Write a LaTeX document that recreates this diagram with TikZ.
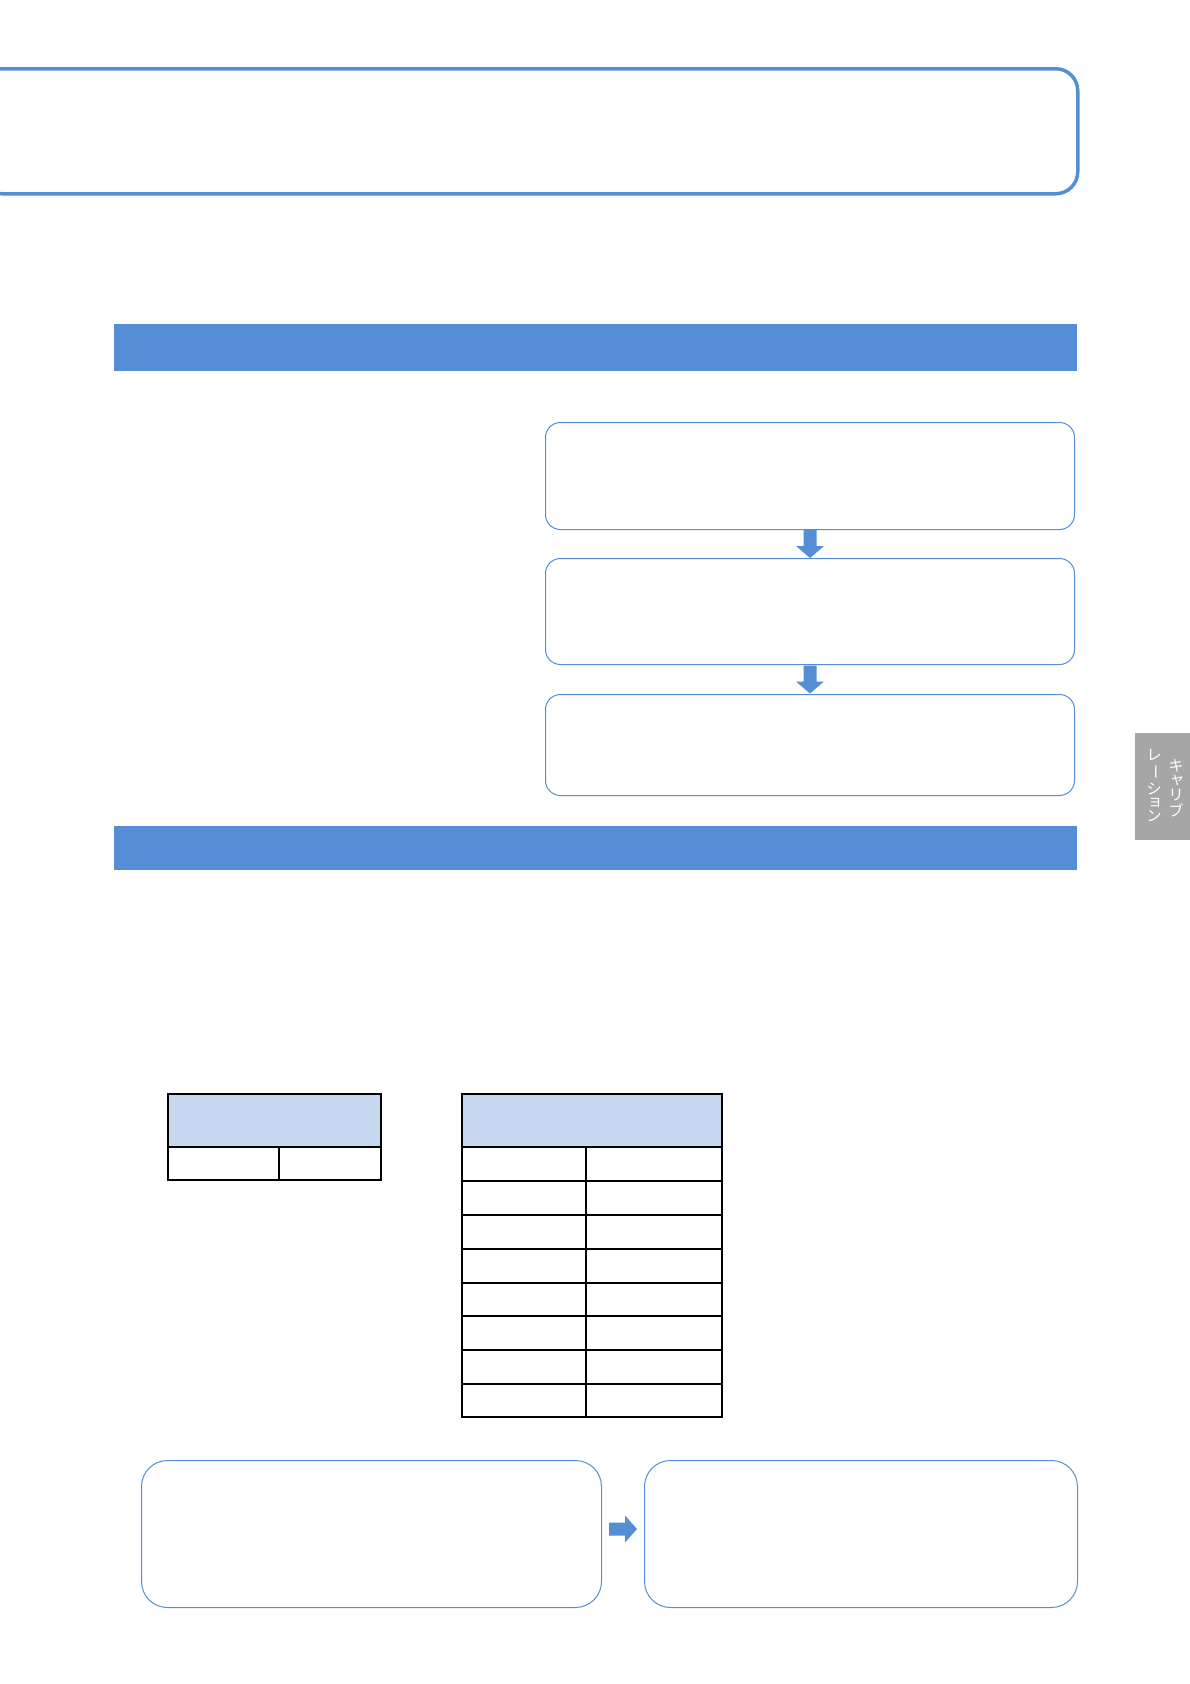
\documentclass[tikz,border=0pt]{standalone}
\usepackage{fontspec}
\newfontfamily\cjk{Noto Sans CJK JP}
\usetikzlibrary{calc}
\definecolor{bandblue}{RGB}{85,142,213}
\definecolor{hdrblue}{RGB}{198,217,241}
\definecolor{tabgray}{RGB}{166,166,166}
\tikzset{
  topbox/.style={draw=bandblue, line width=3.5pt, rounded corners=22pt, anchor=north west, inner sep=0pt},
  flowbox/.style={draw=bandblue, line width=1pt, rounded corners=15pt, anchor=north west, inner sep=0pt, fill=white},
  bottombox/.style={draw=bandblue, line width=1pt, rounded corners=26pt, anchor=north west, inner sep=0pt, fill=white},
  band/.style={fill=bandblue, draw=none, anchor=north west, inner sep=0pt},
  tabline/.style={draw=black, line width=1.6pt},
  hdrcell/.style={fill=hdrblue, draw=black, line width=1.6pt},
  tabchar/.style={text=white, font=\cjk\fontsize{15}{15}\selectfont, inner sep=0pt},
  downarrow/.pic={\fill[bandblue] (-6.5,-14) -- (6.5,-14) -- (6.5,2) -- (14,2) -- (0,14) -- (-14,2) -- (-6.5,2) -- cycle;},
  rightarrow/.pic={\fill[bandblue] (-14,-6.5) -- (2,-6.5) -- (2,-13.5) -- (14,0) -- (2,13.5) -- (2,6.5) -- (-14,6.5) -- cycle;}
}
\begin{document}
\begin{tikzpicture}[x=1pt,y=-1pt]
\useasboundingbox (0,0) rectangle (1190,1684);

% top title box (left side runs off the page)
\node[topbox, minimum width=1098pt, minimum height=125pt] (title) at (-22,67) {};

% blue bands
\node[band, minimum width=963pt, minimum height=47pt] (band1) at (114,324) {};
\node[band, minimum width=963pt, minimum height=44pt] (band2) at (114,826) {};

% flow boxes
\node[flowbox, minimum width=529pt, minimum height=107pt] (fa) at (545,422) {};
\node[flowbox, minimum width=529pt, minimum height=106pt] (fb) at (545,558) {};
\node[flowbox, minimum width=529pt, minimum height=101pt] (fc) at (545,694) {};
\path ($(fa.south)!0.5!(fb.north)$) pic {downarrow};
\path ($(fb.south)!0.5!(fc.north)$) pic {downarrow};

% side tab
\fill[tabgray] (1135,733) rectangle (1190,840);
\node[tabchar] (t1) at (1176,766) {キ};
\node[tabchar] (t2) at (1177,781) {ャ};
\node[tabchar] (t3) at (1176,795) {リ};
\node[tabchar] (t4) at (1176,810) {ブ};
\node[tabchar] (t5) at (1154,755) {レ};
\node[tabchar, rotate=-90] (t6) at (1154,772) {ー};
\node[tabchar] (t7) at (1154,789) {シ};
\node[tabchar] (t8) at (1155,803) {ョ};
\node[tabchar] (t9) at (1154,816) {ン};

% left table
\path[hdrcell] (168,1094) rectangle (381,1147);
\draw[tabline] (168,1147) rectangle (381,1180);
\draw[tabline] (279,1147) -- (279,1180);

% right table
\path[hdrcell] (462,1094) rectangle (722,1147);
\foreach \ya/\yb in {1147/1181,1181/1215,1215/1249,1249/1283,1283/1316,1316/1350,1350/1384,1384/1417}{
  \draw[tabline] (462,\ya) rectangle (722,\yb);
}
\draw[tabline] (586,1147) -- (586,1417);
\draw[tabline] (462,1094) rectangle (722,1417);

% bottom boxes
\node[bottombox, minimum width=460pt, minimum height=147pt] (ba) at (141,1460) {};
\node[bottombox, minimum width=433pt, minimum height=147pt] (bb) at (644,1460) {};
\path ($(ba.east)!0.5!(bb.west)+(0,-5)$) pic {rightarrow};
\end{tikzpicture}
\end{document}
